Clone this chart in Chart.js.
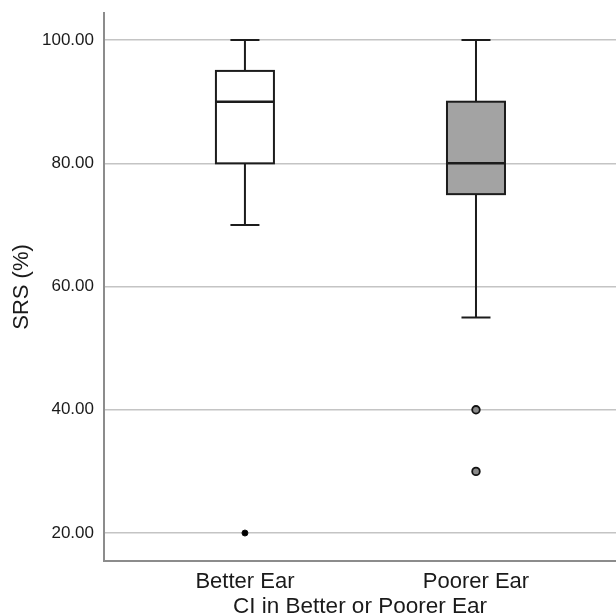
<!DOCTYPE html>
<html lang="en">
<head>
    <meta charset="UTF-8">
    <title>SRS by CI Ear</title>
    <style>
        body {
            margin: 0;
            padding: 0;
            background-color: #ffffff;
        }
        #chart {
            display: block;
        }
    </style>
</head>
<body>
    <canvas id="chart" width="616" height="614"></canvas>

    <script src="https://cdn.jsdelivr.net/npm/chart.js"></script>
    <script>
        // Box plot data
        const categories = ['Better Ear', 'Poorer Ear'];
        const mins = [70, 55];
        const q1s = [80, 75];
        const medians = [90, 80];
        const q3s = [95, 90];
        const maxs = [100, 100];
        const outliers = [[20], [40, 30]];
        const yTicks = [20, 40, 60, 80, 100];

        const boxFills = ['#ffffff', '#a3a3a3'];
        const lineColor = '#1c1c1c';

        // draws boxes, whiskers and medians through the chart scales
        const boxPlugin = {
            id: 'boxes',
            beforeDatasetsDraw(chart) {
                const { ctx, scales: { x, y } } = chart;
                const halfBox = 29;
                const halfCap = 14.5;
                ctx.save();
                ctx.lineWidth = 2;
                ctx.strokeStyle = lineColor;
                categories.forEach((cat, i) => {
                    const cx = x.getPixelForValue(i + 1);
                    const yMin = y.getPixelForValue(mins[i]);
                    const yQ1 = y.getPixelForValue(q1s[i]);
                    const yMed = y.getPixelForValue(medians[i]);
                    const yQ3 = y.getPixelForValue(q3s[i]);
                    const yMax = y.getPixelForValue(maxs[i]);

                    // whiskers
                    ctx.beginPath();
                    ctx.moveTo(cx, yQ3);
                    ctx.lineTo(cx, yMax);
                    ctx.moveTo(cx - halfCap, yMax);
                    ctx.lineTo(cx + halfCap, yMax);
                    ctx.moveTo(cx, yQ1);
                    ctx.lineTo(cx, yMin);
                    ctx.moveTo(cx - halfCap, yMin);
                    ctx.lineTo(cx + halfCap, yMin);
                    ctx.stroke();

                    // box
                    ctx.fillStyle = boxFills[i];
                    ctx.fillRect(cx - halfBox, yQ3, halfBox * 2, yQ1 - yQ3);
                    ctx.strokeRect(cx - halfBox, yQ3, halfBox * 2, yQ1 - yQ3);

                    // median
                    ctx.beginPath();
                    ctx.lineWidth = 2.5;
                    ctx.moveTo(cx - halfBox, yMed);
                    ctx.lineTo(cx + halfBox, yMed);
                    ctx.stroke();
                    ctx.lineWidth = 2;
                });
                ctx.restore();
            }
        };

        // drop the label overflow padding chart.js adds around the plot
        function noEdgePadding(scale) {
            scale.paddingTop = 0;
            scale.paddingBottom = 0;
            scale.paddingLeft = 0;
            scale.paddingRight = 0;
        }

        const outlierSets = outliers.map((vals, i) => ({
            data: vals.map(v => ({ x: i + 1, y: v })),
            pointRadius: i === 0 ? 3 : 3.8,
            pointBackgroundColor: i === 0 ? '#000000' : '#8a8a8a',
            pointBorderColor: '#111111',
            pointBorderWidth: i === 0 ? 1 : 1.8
        }));

        const ctx = document.getElementById('chart').getContext('2d');
        new Chart(ctx, {
            type: 'scatter',
            data: { datasets: outlierSets },
            plugins: [boxPlugin],
            options: {
                responsive: false,
                animation: false,
                layout: {
                    autoPadding: false,
                    padding: { top: 13, right: 0, bottom: 0, left: 0 }
                },
                plugins: {
                    legend: { display: false },
                    tooltip: { enabled: false }
                },
                scales: {
                    x: {
                        type: 'linear',
                        min: 0.39,
                        max: 2.606,
                        afterBuildTicks: (scale) => {
                            scale.ticks = categories.map((c, i) => ({ value: i + 1 }));
                        },
                        afterFit: (scale) => {
                            scale.height = 53;
                            noEdgePadding(scale);
                        },
                        grid: { display: false, drawTicks: false },
                        border: { color: '#8c8c8c', width: 2 },
                        ticks: {
                            padding: 8,
                            color: '#1a1a1a',
                            font: { family: 'Liberation Sans', size: 22 },
                            callback: (v) => categories[v - 1]
                        },
                        title: {
                            display: true,
                            text: 'CI in Better or Poorer Ear',
                            color: '#1a1a1a',
                            padding: { top: 0, bottom: -4 },
                            font: { family: 'Liberation Sans', size: 22.5, lineHeight: 1.0 }
                        }
                    },
                    y: {
                        min: 15.46,
                        max: 104.4,
                        afterBuildTicks: (scale) => {
                            scale.ticks = yTicks.map(v => ({ value: v }));
                        },
                        afterFit: (scale) => {
                            scale.width = 104;
                            noEdgePadding(scale);
                        },
                        grid: { color: '#c4c4c4', lineWidth: 1.5, drawTicks: false },
                        border: { color: '#8c8c8c', width: 2 },
                        ticks: {
                            padding: 10,
                            color: '#1a1a1a',
                            font: { family: 'Liberation Sans', size: 17 },
                            callback: (v) => Number(v).toFixed(2)
                        },
                        title: {
                            display: true,
                            text: 'SRS (%)',
                            color: '#1a1a1a',
                            padding: { top: 9, bottom: 0 },
                            font: { family: 'Liberation Sans', size: 22 }
                        }
                    }
                }
            }
        });
    </script>
</body>
</html>
